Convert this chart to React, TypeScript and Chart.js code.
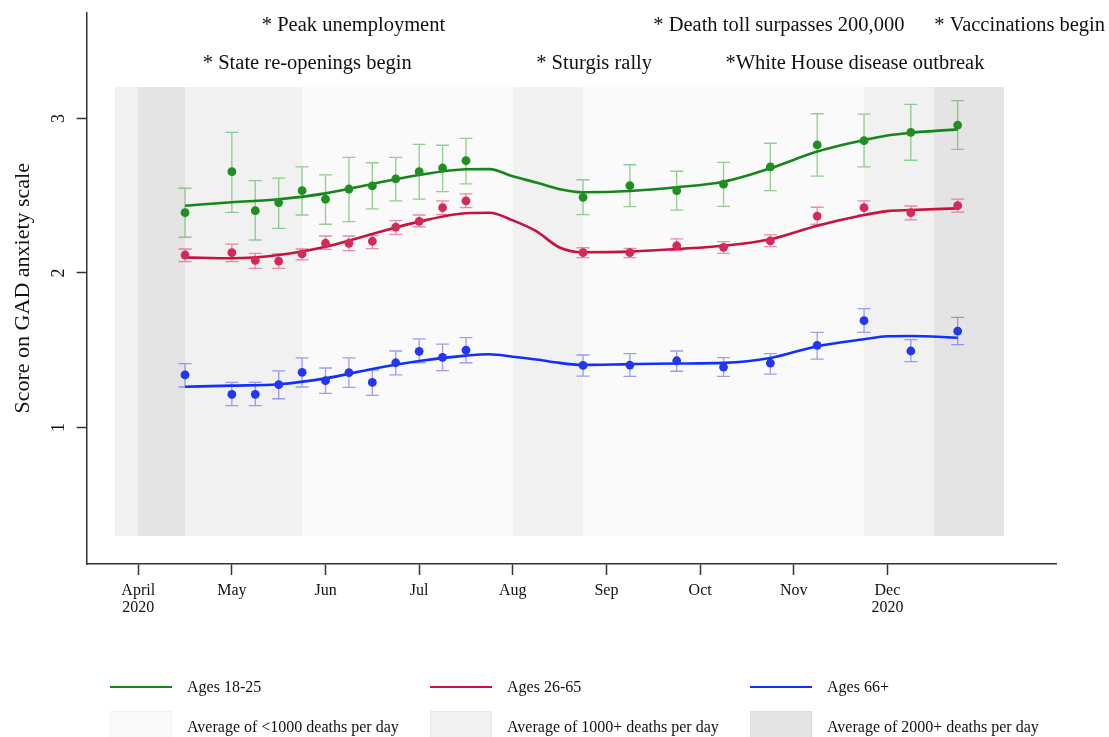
import React, { useEffect, useRef } from 'react';
import { Chart, registerables } from 'chart.js';

Chart.register(...registerables);

const FONT = '"Liberation Serif", "Times New Roman", serif';

// x values are months since April 2020 (0 = April, 8 = December)
const MONTH_TICKS = [0, 1, 2, 3, 4, 5, 6, 7, 8];
const MONTH_LABELS: (string | string[])[] = [['April', '2020'], 'May', 'Jun', 'Jul', 'Aug', 'Sep', 'Oct', 'Nov', ['Dec', '2020']];
const Y_TICKS = [1, 2, 3];

const POINT_X = [0.5, 1, 1.25, 1.5, 1.75, 2, 2.25, 2.5, 2.75, 3, 3.25, 3.5, 4.75, 5.25, 5.75, 6.25, 6.75, 7.25, 7.75, 8.25, 8.75];

const G_MEAN = [2.390, 2.655, 2.403, 2.455, 2.532, 2.477, 2.543, 2.563, 2.608, 2.655, 2.679, 2.726, 2.489, 2.565, 2.532, 2.574, 2.686, 2.828, 2.856, 2.910, 2.957];
const G_LO = [2.231, 2.392, 2.213, 2.289, 2.375, 2.315, 2.332, 2.414, 2.466, 2.478, 2.526, 2.576, 2.377, 2.429, 2.407, 2.431, 2.532, 2.627, 2.686, 2.729, 2.800];
const G_HI = [2.548, 2.910, 2.597, 2.614, 2.686, 2.634, 2.748, 2.713, 2.748, 2.832, 2.826, 2.871, 2.603, 2.700, 2.658, 2.716, 2.839, 3.030, 3.027, 3.091, 3.115];

const R_MEAN = [2.116, 2.131, 2.082, 2.077, 2.123, 2.192, 2.192, 2.205, 2.297, 2.334, 2.422, 2.466, 2.131, 2.131, 2.176, 2.166, 2.207, 2.368, 2.422, 2.390, 2.435];
const R_LO = [2.073, 2.073, 2.030, 2.030, 2.084, 2.153, 2.144, 2.157, 2.250, 2.299, 2.377, 2.422, 2.099, 2.099, 2.144, 2.127, 2.170, 2.315, 2.375, 2.343, 2.394];
const R_HI = [2.155, 2.187, 2.127, 2.123, 2.155, 2.239, 2.239, 2.241, 2.338, 2.375, 2.466, 2.511, 2.163, 2.159, 2.220, 2.202, 2.246, 2.425, 2.466, 2.433, 2.478];

const B_MEAN = [1.340, 1.215, 1.215, 1.277, 1.357, 1.303, 1.355, 1.292, 1.419, 1.493, 1.454, 1.500, 1.402, 1.404, 1.432, 1.391, 1.417, 1.532, 1.691, 1.495, 1.624];
const B_LO = [1.262, 1.141, 1.141, 1.186, 1.262, 1.221, 1.260, 1.208, 1.340, 1.419, 1.368, 1.419, 1.333, 1.331, 1.364, 1.331, 1.346, 1.443, 1.616, 1.426, 1.536];
const B_HI = [1.413, 1.292, 1.292, 1.366, 1.450, 1.385, 1.450, 1.372, 1.495, 1.573, 1.540, 1.581, 1.469, 1.478, 1.495, 1.452, 1.478, 1.616, 1.769, 1.568, 1.713];

// smoothed trend lines
const LINE_X = [0.5, 1, 1.5, 2, 2.5, 3, 3.5, 3.75, 4, 4.25, 4.5, 4.75, 5.25, 5.75, 6.25, 6.75, 7.25, 7.75, 8, 8.25, 8.75];
const G_FIT = [2.435, 2.457, 2.477, 2.515, 2.576, 2.634, 2.671, 2.672, 2.625, 2.585, 2.542, 2.522, 2.530, 2.554, 2.590, 2.677, 2.785, 2.860, 2.889, 2.907, 2.929];
const R_FIT = [2.101, 2.095, 2.116, 2.170, 2.252, 2.332, 2.386, 2.389, 2.340, 2.270, 2.165, 2.134, 2.138, 2.155, 2.176, 2.218, 2.306, 2.375, 2.400, 2.407, 2.418];
const B_FIT = [1.264, 1.271, 1.280, 1.318, 1.379, 1.430, 1.465, 1.474, 1.458, 1.440, 1.418, 1.405, 1.410, 1.414, 1.418, 1.450, 1.526, 1.571, 1.590, 1.592, 1.581];

// death-rate background periods (0: <1000, 1: 1000+, 2: 2000+)
const BAND_START = [-0.25, 0, 0.5, 1.75, 4, 4.75, 7.75, 8.5];
const BAND_END = [0, 0.5, 1.75, 4, 4.75, 7.75, 8.5, 9.25];
const BAND_LEVEL = [1, 2, 1, 0, 1, 0, 1, 2];
const BAND_LOW = 0.3;
const BAND_HIGH = 3.2;

const EVENT_LABELS = ['* Peak unemployment', '* Death toll surpasses 200,000', '* Vaccinations begin', '* State re-openings begin', '* Sturgis rally', '*White House disease outbreak'];
const EVENT_X = [1.32, 5.5, 8.5, 0.69, 4.25, 6.27];
const EVENT_ROW = [0, 0, 0, 1, 1, 1];

const SERIES_LABELS = ['Ages 18-25', 'Ages 26-65', 'Ages 66+'];
const BAND_LABELS = ['Average of <1000 deaths per day', 'Average of 1000+ deaths per day', 'Average of 2000+ deaths per day'];

const LINE_COLORS = ['#15871a', '#c8123f', '#1030ff'];
const DOT_COLORS = ['#1f8f22', '#d42a5a', '#2336f0'];
const ERR_COLORS = ['rgba(60,170,60,0.55)', 'rgba(220,70,110,0.6)', 'rgba(80,80,240,0.55)'];
const BAND_COLORS = ['#fafafa', '#f1f1f1', '#e4e4e4'];
const ROW_Y_VALUES = [3.598, 3.352];

const bandPlugin = {
  id: 'bandsAndErrors',
  beforeDatasetsDraw(chart: any) {
    const { ctx, scales } = chart;
    const x = scales.x;
    const y = scales.y;
    ctx.save();
    const yTop = Math.round(y.getPixelForValue(BAND_HIGH));
    const yBot = Math.round(y.getPixelForValue(BAND_LOW));
    for (let i = 0; i < BAND_START.length; i++) {
      const x0 = Math.round(x.getPixelForValue(BAND_START[i]));
      const x1 = Math.round(x.getPixelForValue(BAND_END[i]));
      ctx.fillStyle = BAND_COLORS[BAND_LEVEL[i]];
      ctx.fillRect(x0, yTop, x1 - x0, yBot - yTop);
    }
    const groups = [[G_LO, G_HI], [R_LO, R_HI], [B_LO, B_HI]];
    groups.forEach((g, k) => {
      ctx.strokeStyle = ERR_COLORS[k];
      ctx.lineWidth = 1.3;
      for (let i = 0; i < POINT_X.length; i++) {
        const px = x.getPixelForValue(POINT_X[i]);
        const pl = y.getPixelForValue(g[0][i]);
        const ph = y.getPixelForValue(g[1][i]);
        ctx.beginPath();
        ctx.moveTo(px, pl);
        ctx.lineTo(px, ph);
        ctx.moveTo(px - 6.5, pl);
        ctx.lineTo(px + 6.5, pl);
        ctx.moveTo(px - 6.5, ph);
        ctx.lineTo(px + 6.5, ph);
        ctx.stroke();
      }
    });
    ctx.restore();
  },
  afterDatasetsDraw(chart: any) {
    const { ctx, scales } = chart;
    ctx.save();
    ctx.font = `20.5px ${FONT}`;
    ctx.fillStyle = '#111';
    ctx.textAlign = 'left';
    ctx.textBaseline = 'middle';
    for (let i = 0; i < EVENT_LABELS.length; i++) {
      ctx.fillText(EVENT_LABELS[i], scales.x.getPixelForValue(EVENT_X[i]), scales.y.getPixelForValue(ROW_Y_VALUES[EVENT_ROW[i]]));
    }
    ctx.restore();
  },
};

const zeroPad = (s: any) => {
  s.paddingTop = 0;
  s.paddingBottom = 0;
  s.paddingLeft = 0;
  s.paddingRight = 0;
};

export default function App() {
  const ref = useRef<HTMLCanvasElement | null>(null);

  useEffect(() => {
    if (!ref.current) return;
    const toPts = (xs: number[], ys: number[]) => xs.map((v, i) => ({ x: v, y: ys[i] }));
    const fits = [G_FIT, R_FIT, B_FIT];
    const means = [G_MEAN, R_MEAN, B_MEAN];
    const datasets: any[] = [];
    fits.forEach((f, k) => {
      datasets.push({
        type: 'line',
        label: SERIES_LABELS[k] + ' trend',
        data: toPts(LINE_X, f),
        borderColor: LINE_COLORS[k],
        borderWidth: 2.6,
        pointRadius: 0,
        cubicInterpolationMode: 'monotone',
        fill: false,
        order: 2,
      });
    });
    means.forEach((m, k) => {
      datasets.push({
        type: 'scatter',
        label: SERIES_LABELS[k],
        data: toPts(POINT_X, m),
        backgroundColor: DOT_COLORS[k],
        borderWidth: 0,
        pointRadius: 4.4,
        order: 1,
      });
    });

    const chart = new Chart(ref.current, {
      type: 'scatter',
      data: { datasets },
      options: {
        animation: false,
        responsive: true,
        maintainAspectRatio: false,
        layout: { padding: { left: 0, top: 12.5, right: 53, bottom: 113 } },
        plugins: { legend: { display: false }, tooltip: { enabled: false } },
        scales: {
          x: {
            type: 'linear',
            min: -0.55,
            max: 9.8,
            afterBuildTicks: (s: any) => {
              s.ticks = MONTH_TICKS.map((v) => ({ value: v }));
            },
            afterFit: (s: any) => {
              s.height = 60;
              zeroPad(s);
            },
            ticks: {
              autoSkip: false,
              maxRotation: 0,
              minRotation: 0,
              padding: 7,
              color: '#111',
              font: { family: FONT, size: 16, lineHeight: 1.06 },
              callback: (_v: any, i: number) => MONTH_LABELS[i],
            },
            grid: { drawOnChartArea: false, drawTicks: true, tickLength: 11, tickColor: '#333', tickWidth: 1.5 },
            border: { display: true, color: '#333', width: 1.5 },
          },
          y: {
            type: 'linear',
            min: 0.117,
            max: 3.685,
            afterBuildTicks: (s: any) => {
              s.ticks = Y_TICKS.map((v) => ({ value: v }));
            },
            afterFit: (s: any) => {
              s.width = 86.7;
              zeroPad(s);
            },
            ticks: {
              minRotation: 90,
              maxRotation: 90,
              crossAlign: 'center',
              padding: 13,
              color: '#111',
              font: { family: FONT, size: 18 },
              callback: (v: any) => String(v),
            },
            grid: { drawOnChartArea: false, drawTicks: true, tickLength: 10, tickColor: '#333', tickWidth: 1.5 },
            border: { display: true, color: '#333', width: 1.5 },
            title: {
              display: true,
              text: 'Score on GAD anxiety scale',
              color: '#111',
              font: { family: FONT, size: 22 },
              padding: { top: 10, bottom: 0 },
            },
          },
        },
      } as any,
      plugins: [bandPlugin],
    });
    return () => chart.destroy();
  }, []);

  const cols = [110, 430, 750];
  const textStyle: React.CSSProperties = {
    position: 'absolute',
    fontFamily: FONT,
    fontSize: 16,
    color: '#111',
    lineHeight: '20px',
    whiteSpace: 'nowrap',
  };

  return (
    <div style={{ position: 'absolute', left: 0, top: 0, width: 1109, height: 737, background: '#fff', overflow: 'hidden' }}>
      <canvas ref={ref} />
      {SERIES_LABELS.map((lab, k) => (
        <React.Fragment key={'s' + k}>
          <div style={{ position: 'absolute', left: cols[k], top: 685.5, width: 62, height: 2.6, background: LINE_COLORS[k] }} />
          <div style={{ ...textStyle, left: cols[k] + 77, top: 677 }}>{lab}</div>
        </React.Fragment>
      ))}
      {BAND_LABELS.map((lab, k) => (
        <React.Fragment key={'b' + k}>
          <div style={{ position: 'absolute', left: cols[k], top: 711, width: 62, height: 30, background: BAND_COLORS[k], boxShadow: 'inset 0 0 0 1px rgba(0,0,0,0.03)' }} />
          <div style={{ ...textStyle, left: cols[k] + 77, top: 717 }}>{lab}</div>
        </React.Fragment>
      ))}
    </div>
  );
}
